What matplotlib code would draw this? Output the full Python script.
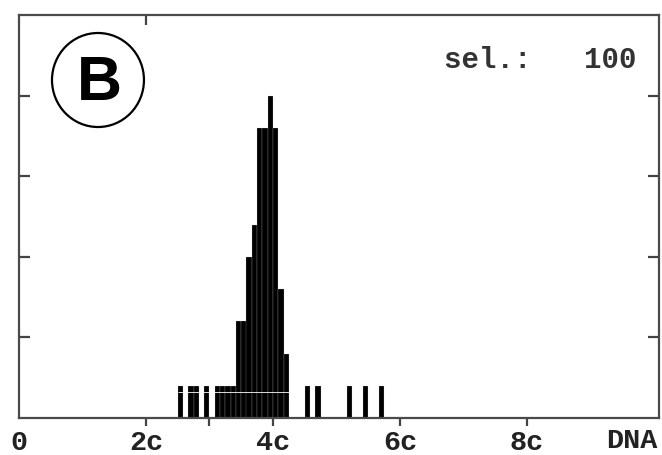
import matplotlib
matplotlib.use("Agg")
import matplotlib.pyplot as plt
from matplotlib.patches import Ellipse

# DNA content bins (left edges, in units of c) and cell counts
bin_left = [2.500, 2.667, 2.750, 2.917, 3.083, 3.167, 3.250, 3.333,
            3.417, 3.500, 3.583, 3.667, 3.750, 3.833, 3.917, 4.000,
            4.083, 4.167, 4.500, 4.667, 5.167, 5.417, 5.667]
counts = [1, 1, 1, 1, 1, 1, 1, 1,
          3, 3, 5, 6, 9, 9, 10, 9,
          4, 2, 1, 1, 1, 1, 1]
bin_width = 1 / 12

x_ticks = [0, 2, 3, 4, 6, 8]
x_tick_labels = ["0", "2c", "", "4c", "6c", "8c"]
x_label = "DNA"
y_ticks = [2.5, 5, 7.5, 10]
panel_label = "B"
sel_text = "sel.:   100"

W, H = 662, 455
fig = plt.figure(figsize=(W / 100, H / 100), dpi=100)
ax = fig.add_axes([19 / W, 1 - 418 / H, 640 / W, 403 / H])

ax.bar(bin_left, counts, width=bin_width, align="edge", color="black",
       edgecolor="#d8d8d8", linewidth=0.15)
ax.hlines(0.8, 2.5, 4.25, color="white", linewidth=0.6)

ax.set_xlim(0, 10.08)
ax.set_ylim(0, 12.5)

mono = "Liberation Mono"
ax.set_xticks(x_ticks)
ax.set_xticklabels(x_tick_labels, fontfamily=mono, fontweight="bold",
                   fontsize=20.5, color="#222222")
ax.tick_params(axis="x", direction="out", length=6, width=1.6,
               color="#444444", pad=3)
ax.xaxis.get_major_ticks()[0].tick1line.set_visible(False)

ax.set_yticks(y_ticks)
ax.set_yticklabels([])
ax.tick_params(axis="y", direction="in", length=8, width=1.6,
               color="#444444", left=True, right=True)

# top tick at 2c
sec = ax.secondary_xaxis("top")
sec.set_xticks([2])
sec.set_xticklabels([])
sec.tick_params(direction="in", length=7, width=1.6, color="#444444")
sec.spines["top"].set_visible(False)

for s in ax.spines.values():
    s.set_linewidth(1.6)
    s.set_color("#4a4a4a")

ax.set_xlabel(x_label, loc="right", fontfamily=mono, fontweight="bold",
              fontsize=20.5, color="#222222")
ax.xaxis.set_label_coords(0.997, -0.025)

ax.add_patch(Ellipse((0.1234, 0.8387), 0.1437, 0.2333, transform=ax.transAxes,
                     facecolor="white", edgecolor="black", linewidth=1.6))
ax.text(0.1250, 0.845, panel_label, transform=ax.transAxes, ha="center",
        va="center_baseline", fontfamily="Liberation Sans", fontweight="bold",
        fontsize=45, color="black")

ax.text(0.965, 0.888, sel_text, transform=ax.transAxes, ha="right",
        va="center", fontfamily=mono, fontweight="bold", fontsize=21,
        color="#333333")

fig.savefig("out.png", dpi=100)
